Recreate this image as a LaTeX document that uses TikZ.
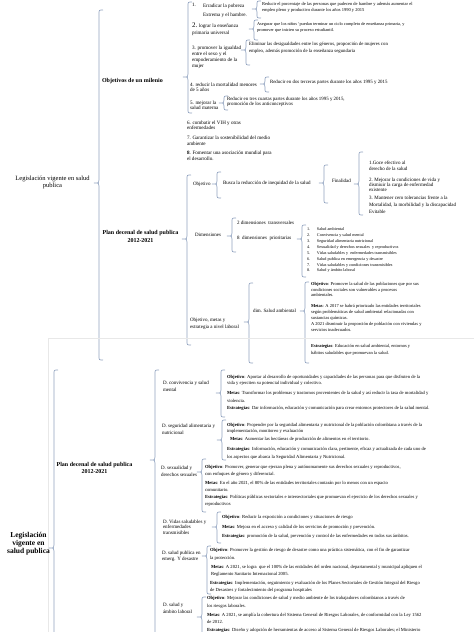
\documentclass[tikz,border=0pt]{standalone}
\usepackage{fontspec}
\setmainfont{Liberation Serif}
\newcommand\fs[2]{\fontsize{#1}{#2}\selectfont}
\definecolor{bcol}{RGB}{145,163,192}
\tikzset{
 brk/.style={draw=bcol, line width=0.65pt},
 tx/.style={anchor=north west, inner sep=0pt, outer sep=0pt, align=left},
 tc/.style={anchor=north, inner sep=0pt, outer sep=0pt, align=center},
 pageedge/.style={draw=black!9, line width=0.8pt}
}
\newcommand\bracepath[4]{\draw[brk] (#1+4,#2) .. controls (#1,#2) .. (#1,#2+4) -- (#1,#3-3) .. controls (#1,#3) .. (#1-5,#3) .. controls (#1,#3) .. (#1,#3+3) -- (#1,#4-4) .. controls (#1,#4) .. (#1+4,#4);}
\begin{document}
\begin{tikzpicture}[x=1pt,y=-1pt]
\fill[white] (0,0) rectangle (474,632);
\useasboundingbox (0,0) rectangle (474,632);
% ================= TOP =================
\node[tc, font=\fs{6.5}{7}] (t0) at (52.5,176) {Legislación vigente en salud\\publica};
\bracepath{99}{10}{183}{360}
\node[tx, font=\bfseries\fs{6}{7}] (obm) at (102,78.2) {Objetivos de un milenio};
\bracepath{188}{2}{77}{113}
% item 1
\node[tx, font=\fs{5.1}{9}] (i1n) at (192,3.6) {1.};
\node[tx, font=\fs{5.1}{9}] (i1) at (203,3.6) {Erradicar la pobreza\\Extrema y el hambre.};
\bracepath{257}{1}{9}{18}
\node[tx, font=\fs{4.5}{6}] (r1) at (262,2.8) {Reducir el porcentaje de las personas que padecen de hambre y además aumentar el\\empleo pleno y productivo durante los años 1990 y 2015};
% item 2
\node[tx, font=\fs{5.1}{7}] (i2) at (192,22.6) {{\fs{7}{7}2.} lograr la enseñanza\\primaria universal};
\bracepath{254}{20}{29}{40}
\node[tx, font=\fs{4.35}{6}] (r2) at (257,22.9) {Asegurar que los niños ‘puedan terminar un ciclo completo de enseñanza primaria, y\\promover que inicien su proceso estudiantil.};
% item 3
\node[tx, font=\fs{5.1}{6}] (i3) at (192,45.6) {3. promover la igualdad\\entre el sexo y el\\empoderamiento de la\\mujer};
\bracepath{246}{40}{50}{65}
\node[tx, font=\fs{4.8}{7}] (r3) at (249,42.6) {Eliminar las desigualdades entre los géneros, proporción de mujeres con\\empleo, además promoción de la enseñanza segundaria};
% item 4
\node[tx, font=\fs{5.1}{5.5}] (i4) at (190,82.6) {4. reducir la mortalidad menores\\de 5 años};
\bracepath{265}{77}{84}{92}
\node[tx, font=\fs{4.9}{6}] (r4) at (270,79.6) {Reducir en dos terceras partes durante los años 1995 y 2015};
% item 5
\node[tx, font=\fs{5.1}{5.5}] (i5) at (190,100.6) {5. mejorar la\\salud materna};
\bracepath{224}{96}{103}{110}
\node[tx, font=\fs{4.9}{5.5}] (r5) at (227,96.6) {Reducir en tres cuartas partes durante los años 1995 y 2015,\\promoción de los anticonceptivos};
% items 6-8
\node[tx, font=\fs{5.1}{5.5}] (i6) at (187,120.6) {6. combatir el VIH y otras\\enfermedades};
\node[tx, font=\fs{5.1}{6}] (i7) at (187,135.6) {7. Garantizar la sostenibilidad del medio\\ambiente};
\node[tx, font=\fs{5.1}{6}] (i8) at (187,150.6) {\textbf{8}. Fomentar una asociación mundial para\\el desarrollo.};
% plan decenal (top)
\node[tc, font=\bfseries\fs{6}{8}] (p1) at (140.5,230.2) {Plan decenal de salud publica\\2012-2021};
\bracepath{187}{175}{239}{345}
\node[tx, font=\fs{5}{6}] (obj) at (193,181.6) {Objetivo};
\bracepath{217}{172}{184}{198}
\node[tx, font=\fs{5}{6}] (busca) at (223,180.6) {Busca la reducción de inequidad de la salud};
\bracepath{324}{165}{183}{203}
\node[tx, font=\fs{5}{6}] (fin) at (332,178.6) {Finalidad};
\bracepath{359}{152}{184}{215}
\node[tx, font=\fs{5}{6}] (f1) at (369,160.6) {1.Goce efectivo al\\derecho de la salud};
\node[tx, font=\fs{5}{5.3}] (f2) at (369,177.6) {2. Mejorar la condiciones de vida y\\dismiuir la carga de enfermedad\\existente};
\node[tx, font=\fs{5}{7}] (f3) at (369,195.6) {3. Mantener cero tolerancias frente a la\\Mortalidad, la morbilidad y la discapacidad\\Evitable};
\node[tx, font=\fs{5}{6}] (dim) at (195,233.6) {Dimensiones};
\bracepath{232}{218}{236}{252}
\node[tx, font=\fs{5}{6}] (d2) at (237,220.6) {2 dimensiones\ \ transversales};
\node[tx, font=\fs{5}{6}] (d8) at (237,235.6) {8\ \ dimensiones\ \ prioritarias};
\bracepath{302}{225}{239}{277}
\node[tx, font=\fs{4.2}{5.85}] (list) at (307,228) {\makebox[10pt][l]{1.}Salud ambiental\\\makebox[10pt][l]{2.}Convivencia y salud mental\\\makebox[10pt][l]{3.}Seguridad alimentaria nutricional\\\makebox[10pt][l]{4.}Sexualidad y derechos sexuales\ \ y reproductivos\\\makebox[10pt][l]{5.}Vidas saludables y\ \ enfermedades transmisibles\\\makebox[10pt][l]{6.}Salud publica en emergencia y desastre\\\makebox[10pt][l]{7.}Vidas saludables y condiciones transmisibles\\\makebox[10pt][l]{8.}Salud y ámbito laboral};
\node[tx, font=\fs{5}{7}] (oml) at (190,317.6) {Objetivo, metas y\\estrategia a nivel laboral};
\bracepath{249}{283}{322}{363}
\node[tx, font=\fs{5}{6}] (dsa) at (253,308.6) {dim. Salud ambiental};
\bracepath{305}{282}{311}{363}
\node[tx, font=\fs{4.5}{5.3}] (saobj) at (311,282.8) {\textbf{Objetivo}: Promover la salud de las poblaciones que por sus\\condiciones sociales son vulnerables a procesos\\ambientales.};
\node[tx, font=\fs{4.5}{5.8}] (samet) at (311,304.8) {\textbf{Metas}: A 2017 se habrá priorizado las entidades territoriales\\según problemáticas de salud ambiental relacionadas con\\sustancias químicas.\\A 2021 disminuir la proporción de población con viviendas y\\servicios inadecuados.};
\node[tx, font=\fs{4.5}{7}] (saest) at (311,344.8) {\textbf{Estrategias}: Educación en salud ambiental, entornos y\\hábitos saludables que promuevan la salud.};
% ================= BOTTOM =================
\draw[pageedge] (48,338) -- (474,338);
\draw[pageedge] (48,338) -- (48,632);
\node[tc, font=\bfseries\fs{7.5}{8}] (t1) at (28.5,532.5) {Legislación\\vigente en\\salud publica};
\bracepath{54}{370}{548}{645}
\node[tc, font=\bfseries\fs{6}{7.5}] (p2) at (94.5,462.2) {Plan decenal de salud publica\\2012-2021};
\bracepath{155}{370}{460}{645}
% convivencia
\node[tx, font=\fs{5}{7}] (dconv) at (163,380.6) {D. convivencia y salud\\mental};
\bracepath{221}{370}{393}{417}
\node[tx, font=\fs{4.65}{6}] (mobj) at (227,374.8) {\textbf{Objetivo}: Aportar al desarrollo de oportunidades y capacidades de las personas para que disfruten de la\\vida y ejerciten su potencial individual y colectivo.};
\node[tx, font=\fs{4.65}{8}] (mmet) at (227,390.8) {\textbf{Metas}: Transformar los problemas y trastornos provenientes de la salud y así reducir la tasa de mortalidad y\\violencia.};
\node[tx, font=\fs{4.65}{6}] (mest) at (227,405.8) {\textbf{Estrategias}: Dar información, educación y comunicación para crear entornos protectores de la salud mental.};
% seguridad
\node[tx, font=\fs{5}{7}] (dseg) at (162,423.6) {D. seguridad alimentaria y\\nutricional};
\bracepath{222}{420}{440}{460}
\node[tx, font=\fs{4.65}{6.5}] (nobj) at (227,422.8) {\textbf{Objetivo}: Propender por la seguridad alimentaria y nutricional de la población colombiana a través de la\\implementación, monitoreo y evaluación};
\node[tx, font=\fs{4.65}{6}] (nmet) at (230,436.8) {\textbf{Metas}: Aumentar las hectáreas de producción de alimentos en el territorio.};
\node[tx, font=\fs{4.65}{8}] (nest) at (227,446.8) {\textbf{Estrategias}: Información, educación y comunicación clara, pertinente, eficaz y actualizada de cada uno de\\los aspectos que abarca la Seguridad Alimentaria y Nutricional.};
% sexualidad
\node[tx, font=\fs{5}{7}] (dsex) at (161,465.6) {D. sexualidad y\\derechos sexuales};
\bracepath{202}{459}{472}{512}
\node[tx, font=\fs{4.65}{7.5}] (oobj) at (205,464.8) {\textbf{Objetivo}: Promover, generar que ejerzan plena y autónomamente sus derechos sexuales y reproductivos,\\con enfoques de género y diferencial.};
\node[tx, font=\fs{4.65}{7}] (omet) at (205,480.8) {\textbf{Metas}: En el año 2021, el 80\% de las entidades territoriales contarán por lo menos con un espacio\\comunitario.};
\node[tx, font=\fs{4.65}{7}] (oest) at (205,494.8) {\textbf{Estrategias}: Políticas públicas sectoriales e intersectoriales que promuevan el ejercicio de los derechos sexuales y\\reproductivos};
% vidas saludables
\node[tx, font=\fs{5}{5.5}] (dvid) at (163,519.6) {D. Vidas saludables y\\enfermedades\\transmisibles};
\bracepath{217}{512}{527}{543}
\node[tx, font=\fs{4.65}{6}] (pobj) at (222,514.8) {\textbf{Objetivo}: Reducir la exposición a condiciones y situaciones de riesgo};
\node[tx, font=\fs{4.65}{6}] (pmet) at (222,524.8) {\textbf{Metas}: Mejora en el acceso y calidad de los servicios de promoción y prevención.};
\node[tx, font=\fs{4.65}{6}] (pest) at (222,533.8) {\textbf{Estrategias}: promoción de la salud, prevención y control de las enfermedades en todos sus ámbitos.};
% emergencia
\node[tx, font=\fs{5}{6.5}] (demg) at (162,550.6) {D. salud publica en\\emerg. Y desastre};
\bracepath{207}{546}{556}{594}
\node[tx, font=\fs{4.65}{7.5}] (qobj) at (210,548.4) {\textbf{Objetivo}: Promover la gestión de riesgo de desastre como una práctica sistemática, con el fin de garantizar\\la protección.};
\node[tx, font=\fs{4.65}{7}] (qmet) at (211,564.8) {\textbf{Metas}: A 2021, se logra\ \ que el 100\% de las entidades del orden nacional, departamental y municipal apliquen el\\Reglamento Sanitario Internacional 2005.};
\node[tx, font=\fs{4.65}{7}] (qest) at (210,580.8) {\textbf{Estrategias}: Implementación, seguimiento y evaluación de los Planes Sectoriales de Gestión Integral del Riesgo\\de Desastres y fortalecimiento del programa hospitales};
% laboral
\node[tx, font=\fs{5}{7}] (dlab) at (163,602.6) {D. salud y\\ámbito laboral};
\bracepath{202}{597}{617}{645}
\node[tx, font=\fs{4.65}{8}] (robj) at (207,595.8) {\textbf{Objetivo}: Mejorar las condiciones de salud y medio ambiente de los trabajadores colombianos a través de\\los riesgos laborales.};
\node[tx, font=\fs{4.65}{7}] (rmet) at (207,612.8) {\textbf{Metas}: A 2021, se amplía la cobertura del Sistema General de Riesgos Laborales, de conformidad con la Ley 1562\\de 2012.};
\node[tx, font=\fs{4.65}{6}] (rest) at (207,627.8) {\textbf{Estrategias}: Diseño y adopción de herramientas de acceso al Sistema General de Riesgos Laborales; el Ministerio};
\end{tikzpicture}
\end{document}
